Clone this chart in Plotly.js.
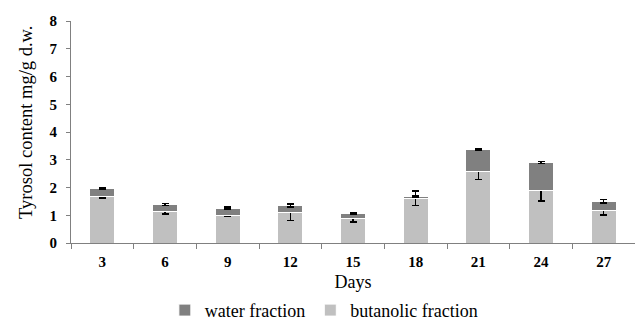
<!DOCTYPE html>
<html>
<head>
<meta charset="utf-8">
<script src="https://cdn.plot.ly/plotly-3.0.1.min.js"></script>
<style>html,body{margin:0;padding:0;background:#fff;}#chart{width:635px;height:320px;}</style>
</head>
<body>
<div id="chart"></div>
<script>
const days = ['3', '6', '9', '12', '15', '18', '21', '24', '27'];
const butanolic = [1.66, 1.13, 1.00, 1.11, 0.90, 1.62, 2.58, 1.91, 1.18];
const butanolicErr = [0.03, 0.08, 0.03, 0.30, 0.15, 0.26, 0.29, 0.40, 0.17];
const water = [0.30, 0.26, 0.26, 0.24, 0.16, 0.07, 0.78, 0.99, 0.33];
const waterErr = [0.03, 0.04, 0.03, 0.05, 0.03, 0.03, 0.03, 0.04, 0.06];

const serif = 'Liberation Serif, Times New Roman, serif';

const traces = [
  {
    type: 'bar', name: 'butanolic fraction', x: days, y: butanolic,
    marker: {color: '#c0c0c0', line: {color: '#ffffff', width: 1}},
    error_y: {type: 'data', array: butanolicErr, visible: true, color: '#000', thickness: 1.5, width: 3.5}
  },
  {
    type: 'bar', name: 'water fraction', x: days, y: water,
    marker: {color: '#808080', line: {color: '#ffffff', width: 1}},
    error_y: {type: 'data', array: waterErr, visible: true, color: '#000', thickness: 1.5, width: 3.5}
  }
];

const layout = {
  width: 635, height: 320,
  margin: {l: 71, r: 0, t: 21, b: 77},
  barmode: 'stack',
  bargap: 0.6,
  paper_bgcolor: '#fff', plot_bgcolor: '#fff',
  font: {family: serif, color: '#000'},
  showlegend: true,
  legend: {
    orientation: 'h', xref: 'container', yref: 'container',
    x: 0.51, xanchor: 'center', y: 0.03, yanchor: 'middle',
    traceorder: 'reversed', font: {family: serif, size: 18, color: '#000'},
    itemwidth: 30
  },
  xaxis: {
    type: 'category', tickson: 'boundaries', ticks: 'outside', ticklen: 5,
    tickcolor: '#808080', showline: true, linecolor: '#808080', linewidth: 1,
    showgrid: false, zeroline: false, automargin: false, ticklabelstandoff: 5,
    tickfont: {family: serif, size: 15, weight: 'bold', color: '#000'},
    title: {text: 'Days', font: {family: serif, size: 18, color: '#000'}, standoff: 15}
  },
  yaxis: {
    range: [0, 8], dtick: 1, ticks: 'outside', ticklen: 4,
    tickcolor: '#808080', showline: true, linecolor: '#808080', linewidth: 1,
    showgrid: false, zeroline: false, automargin: false, ticklabelstandoff: 6,
    tickfont: {family: serif, size: 15, weight: 'bold', color: '#000'}
  },
  annotations: [{
    text: 'Tyrosol content mg/g d.w.', textangle: -90, showarrow: false,
    xref: 'paper', yref: 'paper', x: -0.08, y: 0.545,
    xanchor: 'center', yanchor: 'middle',
    font: {family: serif, size: 18.5, color: '#000'}
  }]
};

Plotly.newPlot('chart', traces, layout, {displayModeBar: false, staticPlot: true});
</script>
</body>
</html>
